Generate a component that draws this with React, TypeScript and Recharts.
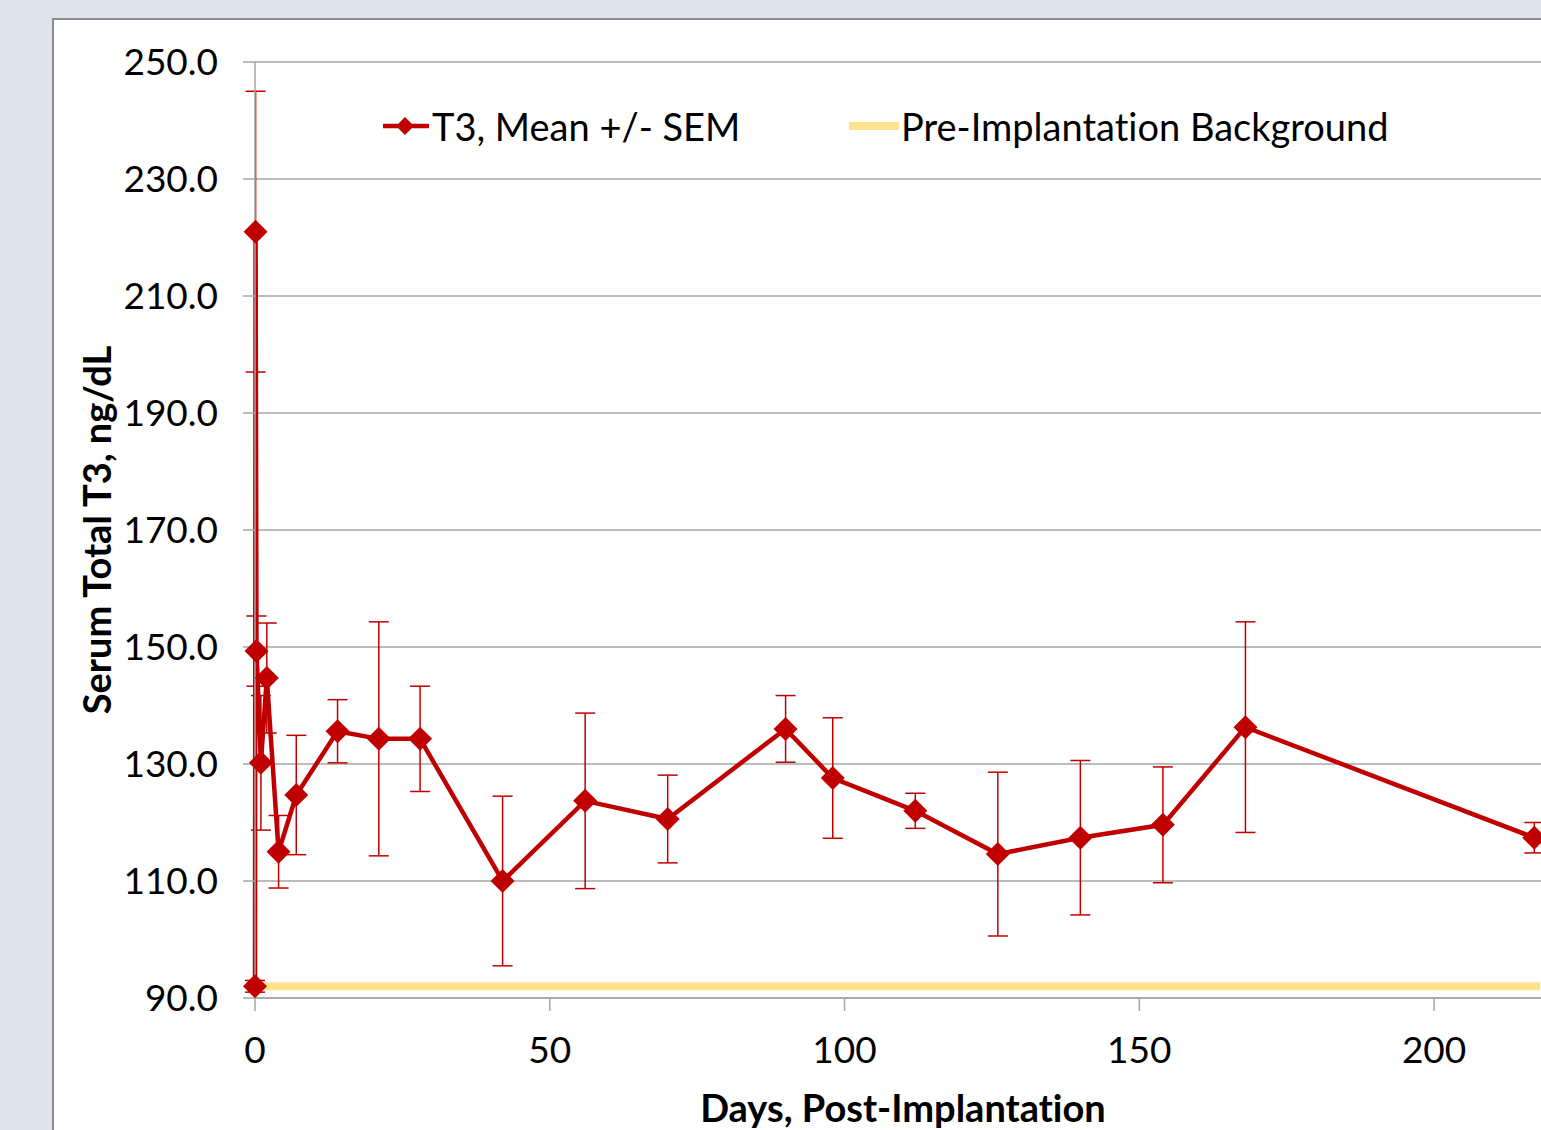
import { ComposedChart, Line, XAxis, YAxis, CartesianGrid, ErrorBar, Legend } from "recharts";

// days post-implantation, T3 mean and SEM (ng/dL)
const days = [0, 0.1, 0.25, 1, 2, 4, 7, 14, 21, 28, 42, 56, 70, 90, 98, 112, 126, 140, 154, 168, 217];
const t3Mean = [92.0, 221.0, 149.3, 130.2, 144.7, 115.0, 124.7, 135.6, 134.3, 134.3, 110.0, 123.7, 120.6, 136.0, 127.6, 122.0, 114.6, 117.4, 119.6, 136.3, 117.4];
const t3Sem = [1.0, 24.0, 6.0, 11.5, 9.4, 6.2, 10.2, 5.4, 20.0, 9.0, 14.5, 15.0, 7.5, 5.7, 10.3, 3.0, 14.0, 13.2, 9.9, 18.0, 2.6];

const backgroundDays = [0, 218];
const backgroundLevel = 92.0;

const xTicks = [0, 50, 100, 150, 200];
const yTicks = [90, 110, 130, 150, 170, 190, 210, 230, 250];

const t3Rows = days.map((d, i) => ({ day: d, t3: t3Mean[i], sem: t3Sem[i] }));
const bgRows = backgroundDays.map((d) => ({ day: d, bg: backgroundLevel }));

const RED = "#c00000";
const FONT = "Lato, 'Noto Sans', sans-serif";

const Diamond = (props: any) => {
  const { cx, cy, index } = props;
  if (cx == null || cy == null) return <g key={"d" + index} />;
  const r = 12;
  return (
    <path
      key={"d" + index}
      d={`M${cx},${cy - r} L${cx + r},${cy} L${cx},${cy + r} L${cx - r},${cy} Z`}
      fill={RED}
    />
  );
};

const YTitle = () => (
  <text
    x={42}
    y={510}
    transform="rotate(-90 42 510)"
    textAnchor="middle"
    dominantBaseline="central"
    fontFamily={FONT}
    fontWeight={700}
    fontSize={38}
    fill="#000"
    style={{ fontVariantLigatures: "none" }}
  >
    Serum Total T3, ng/dL
  </text>
);

const XTitle = () => (
  <text
    x={849}
    y={1087}
    textAnchor="middle"
    dominantBaseline="central"
    fontFamily={FONT}
    fontWeight={700}
    fontSize={38}
    fill="#000"
    style={{ fontVariantLigatures: "none" }}
  >
    Days, Post-Implantation
  </text>
);

const LegendBox = () => (
  <div
    style={{
      position: "relative",
      width: 1100,
      height: 40,
      fontFamily: FONT,
      fontSize: 38,
      color: "#000",
      fontVariantLigatures: "none",
    }}
  >
    <div style={{ position: "absolute", left: 0, top: 0, height: 40, display: "flex", alignItems: "center" }}>
      <svg width={48} height={40}>
        <line x1={0} y1={20} x2={46} y2={20} stroke={RED} strokeWidth={4.5} />
        <path d="M22,11 L31,20 L22,29 L13,20 Z" fill={RED} />
      </svg>
      <span style={{ marginLeft: 1, whiteSpace: "nowrap" }}>T3, Mean +/- SEM</span>
    </div>
    <div style={{ position: "absolute", left: 466, top: 0, height: 40, display: "flex", alignItems: "center" }}>
      <svg width={50} height={40}>
        <line x1={0} y1={20} x2={50} y2={20} stroke="#ffc000" strokeOpacity={0.45} strokeWidth={8} />
      </svg>
      <span style={{ marginLeft: 2, whiteSpace: "nowrap" }}>Pre-Implantation Background</span>
    </div>
  </div>
);

export default function App() {
  return (
    <div
      style={{
        position: "absolute",
        left: 0,
        top: 0,
        width: 1541,
        height: 1130,
        overflow: "hidden",
        background: "#dee3ec",
      }}
    >
      <div
        style={{
          position: "absolute",
          left: 52,
          top: 18,
          width: 1600,
          height: 1200,
          background: "#fff",
          borderLeft: "2px solid #8c8c8c",
          borderTop: "2px solid #8c8c8c",
        }}
      >
        <ComposedChart width={1500} height={1128} margin={{ top: 42, right: 2, bottom: 0, left: 0 }}>
          <CartesianGrid vertical={false} stroke="#a6a6a6" strokeWidth={1.5} />
          <XAxis
            type="number"
            dataKey="day"
            domain={[0, 220]}
            ticks={xTicks}
            height={150}
            stroke="#a6a6a6"
            strokeWidth={1.5}
            tickSize={13}
            tickMargin={26}
            tick={{ fill: "#000", fontSize: 37, fontFamily: FONT }}
            label={{ content: () => <XTitle /> }}
          />
          <YAxis
            type="number"
            domain={[90, 250]}
            ticks={yTicks}
            width={201}
            stroke="#a6a6a6"
            strokeWidth={1.5}
            tickSize={12}
            tickMargin={25}
            tickFormatter={(v: number) => v.toFixed(1)}
            tick={{ fill: "#000", fontSize: 37, fontFamily: FONT }}
            label={{ content: () => <YTitle /> }}
          />
          <Legend
            layout="vertical"
            align="center"
            verticalAlign="middle"
            wrapperStyle={{ left: 329, top: 86, width: 1100, height: 40 }}
            content={() => <LegendBox />}
          />
          <Line
            data={t3Rows}
            dataKey="t3"
            name="T3, Mean +/- SEM"
            stroke={RED}
            strokeWidth={4.5}
            dot={Diamond}
            activeDot={false}
            isAnimationActive={false}
          >
            <ErrorBar dataKey="sem" direction="y" width={10} stroke={RED} strokeWidth={1.5} />
          </Line>
          <Line
            data={bgRows}
            dataKey="bg"
            name="Pre-Implantation Background"
            stroke="#ffc000"
            strokeOpacity={0.45}
            strokeWidth={8}
            dot={false}
            activeDot={false}
            isAnimationActive={false}
          />
        </ComposedChart>
      </div>
    </div>
  );
}
